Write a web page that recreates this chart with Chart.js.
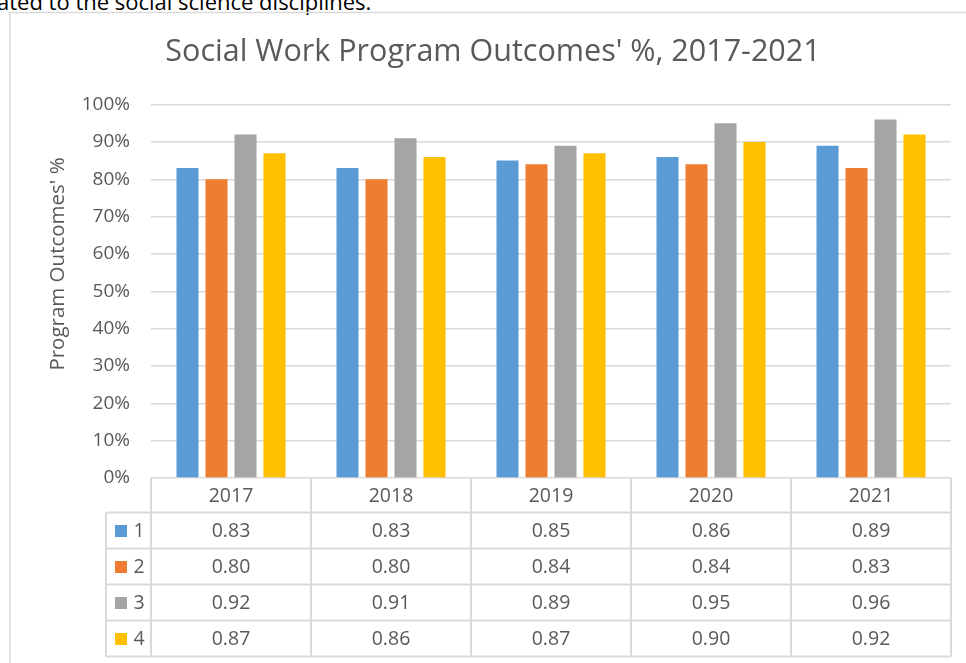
<!DOCTYPE html>
<html>
<head>
<meta charset="utf-8">
<script src="https://cdn.jsdelivr.net/npm/chart.js@4/dist/chart.umd.min.js"></script>
<style>
  html, body { margin: 0; padding: 0; background: #fff; overflow: hidden; }
  #wrap { position: relative; width: 966px; height: 663px; }
  #above { position: absolute; left: -3px; top: -14px; font: 22px "Open Sans", sans-serif; color: #000; white-space: nowrap; }
  canvas { position: absolute; left: 0; top: 0; }
</style>
</head>
<body>
<div id="wrap">
  <div id="above">ated to the social science disciplines.</div>
  <canvas id="chart" width="966" height="663"></canvas>
</div>
<script>
const years = ['2017', '2018', '2019', '2020', '2021'];
const seriesNames = ['1', '2', '3', '4'];
const outcome1 = [0.83, 0.83, 0.85, 0.86, 0.89];
const outcome2 = [0.80, 0.80, 0.84, 0.84, 0.83];
const outcome3 = [0.92, 0.91, 0.89, 0.95, 0.96];
const outcome4 = [0.87, 0.86, 0.87, 0.90, 0.92];
const colors = ['#5B9BD5', '#ED7D31', '#A5A5A5', '#FFC000'];

const textColor = '#595959';
const lineColor = '#D9D9D9';
const font = '"Open Sans", sans-serif';

const allSeries = [outcome1, outcome2, outcome3, outcome4];

// outer border, axis title and data table under the plot
const tablePlugin = {
    id: 'dataTable',
    beforeDraw(chart) {
        const ctx = chart.ctx;
        ctx.save();
        ctx.strokeStyle = lineColor;
        ctx.lineWidth = 1.5;
        ctx.strokeRect(10, 12.5, 1000, 700);
        ctx.restore();
    },
    afterDraw(chart) {
        const ctx = chart.ctx;
        const x = chart.scales.x;
        const area = chart.chartArea;
        const colW = (area.right - area.left) / years.length;
        const top = area.bottom;
        const headH = 34.5;
        const rowH = 36;
        const labelLeft = 106;
        const bottom = top + headH + rowH * seriesNames.length;

        ctx.save();
        ctx.strokeStyle = lineColor;
        ctx.lineWidth = 2;
        ctx.beginPath();
        for (let i = 0; i <= years.length; i++) {
            const px = area.left + i * colW;
            ctx.moveTo(px, top);
            ctx.lineTo(px, bottom);
        }
        ctx.moveTo(labelLeft, top + headH);
        ctx.lineTo(labelLeft, bottom);
        for (let r = 0; r <= seriesNames.length; r++) {
            const py = top + headH + r * rowH;
            ctx.moveTo(labelLeft, py);
            ctx.lineTo(area.right, py);
        }
        ctx.stroke();

        ctx.fillStyle = textColor;
        ctx.font = '19.5px ' + font;
        ctx.textAlign = 'center';
        ctx.textBaseline = 'middle';
        years.forEach((y, i) => {
            ctx.fillText(y, x.getPixelForValue(i), top + headH / 2 + 1);
        });
        allSeries.forEach((vals, r) => {
            const cy = top + headH + r * rowH + rowH / 2 + 1;
            ctx.fillStyle = colors[r];
            ctx.fillRect(labelLeft + 9, cy - 6.5, 12, 12);
            ctx.fillStyle = textColor;
            ctx.fillText(seriesNames[r], labelLeft + 33, cy);
            vals.forEach((v, i) => {
                ctx.fillText(v.toFixed(2), x.getPixelForValue(i), cy);
            });
        });

        // y axis title
        ctx.translate(58, 264);
        ctx.rotate(-Math.PI / 2);
        ctx.font = '20.5px ' + font;
        ctx.fillText("Program Outcomes' %", 0, 0);
        ctx.restore();
    }
};

new Chart(document.getElementById('chart').getContext('2d'), {
    type: 'bar',
    data: {
        labels: years,
        datasets: allSeries.map((vals, i) => ({
            label: seriesNames[i],
            data: vals,
            backgroundColor: colors[i],
            categoryPercentage: 0.725,
            barPercentage: 0.76
        }))
    },
    options: {
        responsive: false,
        animation: false,
        layout: { padding: { left: 35, right: 15, top: 0, bottom: 0 } },
        plugins: {
            legend: { display: false },
            tooltip: { enabled: false },
            title: {
                display: true,
                text: "Social Work Program Outcomes' %, 2017-2021",
                color: textColor,
                font: { family: font, size: 30.5, weight: 'normal', lineHeight: 1.2 },
                padding: { top: 34, bottom: 34 }
            }
        },
        scales: {
            x: {
                grid: { display: false },
                border: { display: false },
                ticks: { display: false },
                afterFit: (scale) => { scale.height = 185; }
            },
            y: {
                min: 0,
                max: 1,
                ticks: {
                    stepSize: 0.1,
                    color: textColor,
                    padding: 21,
                    font: { family: font, size: 19 },
                    callback: (v) => Math.round(v * 100) + '%'
                },
                grid: { color: lineColor, lineWidth: 1.5, drawTicks: false },
                border: { display: false },
                afterFit: (scale) => { scale.width = 116; }
            }
        }
    },
    plugins: [tablePlugin]
});
</script>
</body>
</html>
